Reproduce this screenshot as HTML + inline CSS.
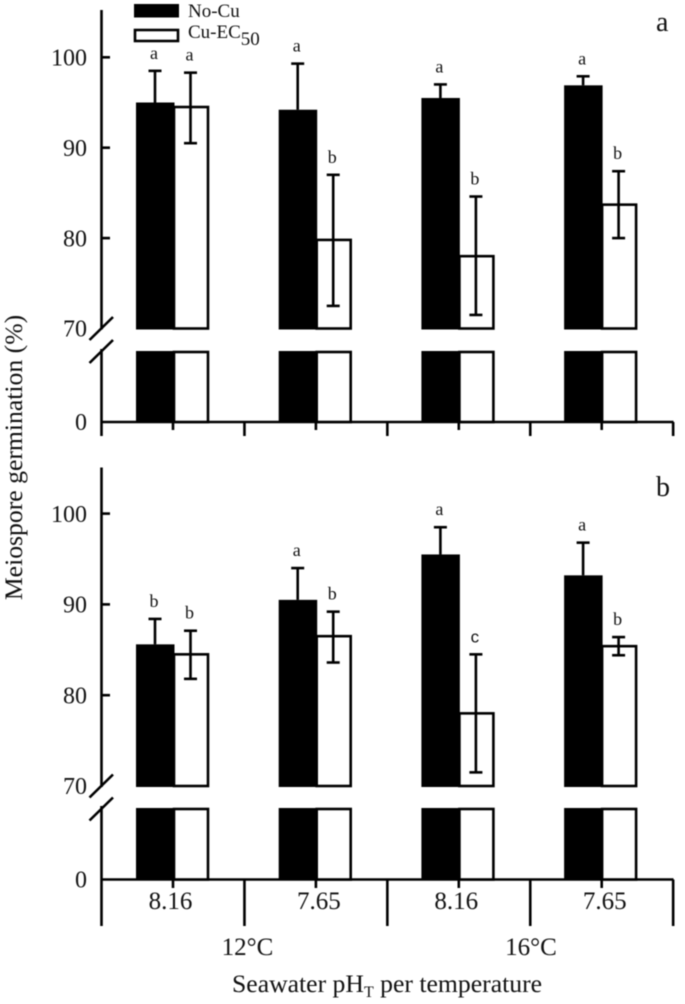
<!DOCTYPE html>
<html lang="en">
<head>
<meta charset="utf-8">
<title>Meiospore germination chart</title>
<style>
html,body{margin:0;padding:0;background:#fff;width:685px;height:1004px;overflow:hidden}
svg{display:block;filter:blur(0.45px)}
text{font-family:"Liberation Serif",serif;fill:#111}
</style>
</head>
<body>
<svg id="chart" xmlns="http://www.w3.org/2000/svg" width="685" height="1004" viewBox="0 0 685 1004">
  <g>
    <rect x="134" y="4" width="45" height="13.5" fill="#000"/>
    <text x="188" y="17" font-size="19">No-Cu</text>
    <rect x="135" y="30" width="43" height="11" fill="#fff" stroke="#000" stroke-width="2.6"/>
    <text x="188" y="38" font-size="19">Cu-EC<tspan dy="7" font-size="19">50</tspan></text>
  </g>
  <text x="656" y="31" font-size="28">a</text>
  <text x="656" y="496" font-size="28">b</text>
  <text transform="translate(22,457.5) rotate(-90)" text-anchor="middle" font-size="25.7">Meiospore germination (%)</text>
  <text x="232" y="992" font-size="25.7">Seawater pH<tspan dy="5" font-size="16">T</tspan><tspan dy="-5"> per temperature</tspan></text>
  <text x="247.5" y="955" text-anchor="middle" font-size="25">12°C</text>
  <text x="531" y="955" text-anchor="middle" font-size="25">16°C</text>
</svg>
<script>
const categories = ["8.16", "7.65", "8.16", "7.65"];
const yTickValues = [100, 90, 80, 70, 0];

const panelANoCu = [95.0, 94.2, 95.5, 96.9];
const panelANoCuUpper = [98.5, 99.3, 97.0, 97.9];
const panelACu = [94.5, 79.8, 78.0, 83.7];
const panelACuUpper = [98.3, 87.0, 84.6, 87.4];
const panelACuLower = [90.5, 72.5, 71.5, 80.0];
const panelANoCuLetters = ["a", "a", "a", "a"];
const panelACuLetters = ["a", "b", "b", "b"];

const panelBNoCu = [85.6, 90.5, 95.5, 93.2];
const panelBNoCuUpper = [88.4, 94.0, 98.5, 96.8];
const panelBCu = [84.5, 86.5, 78.0, 85.4];
const panelBCuUpper = [87.1, 89.2, 84.5, 86.4];
const panelBCuLower = [81.8, 83.6, 71.5, 84.4];
const panelBNoCuLetters = ["b", "a", "a", "a"];
const panelBCuLetters = ["b", "b", "c", "b"];

const NS = "http://www.w3.org/2000/svg";
const svg = document.getElementById("chart");
const LINE = 2.6;

function make(tag, attrs, parent) {
  const node = document.createElementNS(NS, tag);
  for (const k in attrs) node.setAttribute(k, attrs[k]);
  parent.appendChild(node);
  return node;
}

function groupLeft(i) { return 136 + i * 142.7; }
function noCuRight(i) { return groupLeft(i) + 38; }
function cuRight(i) { return groupLeft(i) + 73; }
function noCuCenter(i) { return groupLeft(i) + 19; }
function cuCenter(i) { return groupLeft(i) + 54.5; }
function tickX(k) { return 173 + k * 71.45; }
function categoryX(i) { return tickX(i * 2) + (i % 2 === 1 ? 3 : -2.5); }

function drawLine(parent, x1, y1, x2, y2, w, name) {
  const l = make("line", { x1: x1, y1: y1, x2: x2, y2: y2, stroke: "#000", "stroke-width": w }, parent);
  
  
  return l;
}

function drawPanel(p) {
  const g = make("g", {}, svg);
  
  

  function y(v) { return p.base - (v - 70) * p.scale; }

  // axes
  drawLine(g, 101.5, p.axisTop, 101.5, p.base + 1, LINE, 'y-axis-upper-' + p.id);
  drawLine(g, 101.5, p.breakTop - 3, 101.5, p.axisBottom, LINE, 'y-axis-lower-' + p.id);
  drawLine(g, 100.5, p.zero, 673.5, p.zero, LINE, 'x-axis-' + p.id);
  drawLine(g, 89.5, p.base + 11.5, 113, p.base - 11.5, LINE, 'axis-break-upper-' + p.id);
  drawLine(g, 89.5, p.base + 34.5, 113, p.base + 11.5, LINE, 'axis-break-lower-' + p.id);

  // y ticks and labels
  yTickValues.forEach(function (v) {
    const ty = v === 0 ? p.zero : y(v);
    if (v > 70) {
      drawLine(g, 101.5, ty, 110, ty, LINE, 'y-tick-' + p.id + '-' + v);
    }
    const t = make("text", { x: 87, y: ty + 8.2, "text-anchor": "end", "font-size": 24 }, g);
    
    
    t.textContent = String(v);
  });

  // x ticks
  for (let k = 0; k < 8; k++) {
    const major = k % 2 === 1;
    const end = major ? p.axisBottom : p.minorEnd;
    drawLine(g, tickX(k), p.zero, tickX(k), end, LINE, 'x-tick-' + p.id + '-' + k);
  }

  // bars
  categories.forEach(function (cat, i) {
    const left = groupLeft(i);
    const mid = noCuRight(i);
    const right = cuRight(i);

    [[y(p.noCu[i]), p.base], [p.breakTop - 1, p.zero]].forEach(function (seg, s) {
      const b = make("rect", { x: left, y: seg[0], width: mid - left + 0.5, height: seg[1] - seg[0] + 1, fill: "#000" }, g);
      
      
    });
    [[y(p.cu[i]), p.base], [p.breakTop, p.zero]].forEach(function (seg, s) {
      const b = make("rect", { x: mid, y: seg[0], width: right - mid - 1, height: seg[1] - seg[0], fill: "#fff", stroke: "#000", "stroke-width": LINE }, g);
      
      
    });

    // error bars: No-Cu
    const nx = noCuCenter(i);
    drawLine(g, nx, y(p.noCu[i]), nx, y(p.noCuUp[i]), LINE, 'error-stem-no-cu-' + p.id + '-' + i);
    drawLine(g, nx - 6.5, y(p.noCuUp[i]), nx + 6.5, y(p.noCuUp[i]), LINE, 'error-cap-no-cu-' + p.id + '-' + i);

    // error bars: Cu-EC50
    const cx = cuCenter(i);
    drawLine(g, cx, y(p.cuLow[i]), cx, y(p.cuUp[i]), LINE, 'error-stem-cu-ec50-' + p.id + '-' + i);
    drawLine(g, cx - 6.5, y(p.cuUp[i]), cx + 6.5, y(p.cuUp[i]), LINE, 'error-cap-top-cu-ec50-' + p.id + '-' + i);
    drawLine(g, cx - 6.5, y(p.cuLow[i]), cx + 6.5, y(p.cuLow[i]), LINE, 'error-cap-bottom-cu-ec50-' + p.id + '-' + i);

    // significance letters
    const t1 = make("text", { x: nx - 1, y: y(p.noCuUp[i]) - 12, "text-anchor": "middle", "font-size": 18 }, g);
    
    
    t1.textContent = p.noCuLetters[i];

    const isC = p.cuLetters[i] === "c";
    const t2 = make("text", { x: cx - 1, y: y(p.cuUp[i]) - 12, "text-anchor": "middle", "font-size": isC ? 17 : 18 }, g);
    if (isC) t2.style.fontFamily = '"Liberation Sans", sans-serif';
    
    
    t2.textContent = p.cuLetters[i];

    // category labels (bottom panel only)
    if (p.showCategories) {
      const c = make("text", { x: categoryX(i), y: 909, "text-anchor": "middle", "font-size": 25 }, g);
      
      
      c.textContent = cat;
    }
  });
}

drawPanel({
  id: "a", base: 328.5, scale: 9.04, zero: 422, breakTop: 352, axisTop: 10, axisBottom: 436, minorEnd: 430,
  noCu: panelANoCu, noCuUp: panelANoCuUpper, cu: panelACu, cuUp: panelACuUpper, cuLow: panelACuLower,
  noCuLetters: panelANoCuLetters, cuLetters: panelACuLetters, showCategories: false
});
drawPanel({
  id: "b", base: 786, scale: 9.08, zero: 879.5, breakTop: 809, axisTop: 467.5, axisBottom: 926, minorEnd: 888,
  noCu: panelBNoCu, noCuUp: panelBNoCuUpper, cu: panelBCu, cuUp: panelBCuUpper, cuLow: panelBCuLower,
  noCuLetters: panelBNoCuLetters, cuLetters: panelBCuLetters, showCategories: true
});
</script>
</body>
</html>
